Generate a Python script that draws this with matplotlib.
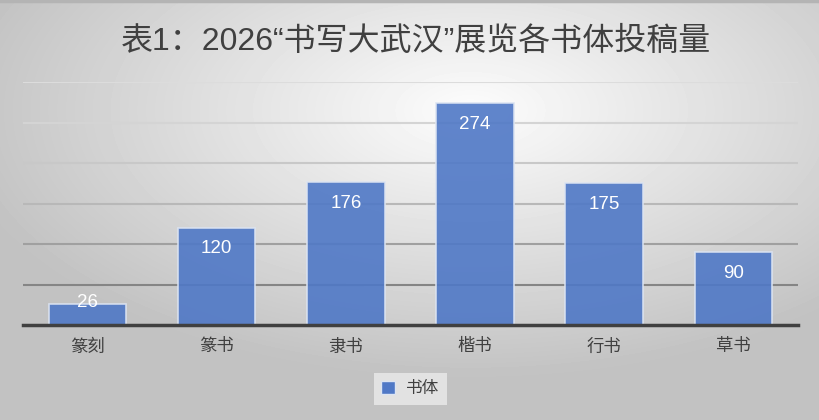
import numpy as np
import matplotlib
matplotlib.use("Agg")
from matplotlib import pyplot as plt
from matplotlib.patches import Rectangle

plt.rcParams['font.family'] = ['Noto Sans CJK SC', 'DejaVu Sans']

categories = ['篆刻', '篆书', '隶书', '楷书', '行书', '草书']
counts = [26, 120, 176, 274, 175, 90]
series_name = '书体'
title = '表1：2026“书写大武汉”展览各书体投稿量'

bar_color = '#4f78c6'
text_color = '#404040'

fig = plt.figure(figsize=(8.2, 4.2), dpi=100)

# radial gradient background
bg = fig.add_axes([0, 0, 1, 1], zorder=-10)
yy, xx = np.mgrid[0:420, 0:820]
r = np.sqrt(((xx - 470) / 820.0) ** 2 + ((yy - 110) / 420.0) ** 2)
shade = np.clip(0.99 - 0.36 * r, 0.76, 1.0)
bg.imshow(shade, cmap='gray', vmin=0, vmax=1, aspect='auto',
          extent=[0, 820, 420, 0])
bg.plot([0, 820], [1, 1], color='#b4b4b4', lw=2.5)
bg.set_xlim(0, 820)
bg.set_ylim(420, 0)
bg.axis('off')

ax = fig.add_axes([23 / 820, 1 - 325 / 420, 775 / 820, 243 / 420])
ax.patch.set_alpha(0)
x = np.arange(len(categories))
ax.set_xlim(-0.5, len(categories) - 0.5)
ax.set_ylim(0, 300)

grid_cols = ['#858585', '#a0a0a0', '#b8b8b8', '#c8c8c8', '#d4d4d4', '#dcdcdc']
for v, c in zip(range(50, 301, 50), grid_cols):
    ax.axhline(v, color=c, lw=1.5, zorder=1)

bars = ax.bar(x, counts, width=0.6, color=bar_color, alpha=0.9,
              edgecolor='#dce4f2', linewidth=1.2, zorder=2)
for b, v in zip(bars, counts):
    # label sits inside the bar end; short bars get it at the top
    off = -21 if v > 60 else 1
    ax.annotate(str(v), (b.get_x() + b.get_width() / 2, v),
                xytext=(0, off), textcoords='offset pixels',
                ha='center', va='center', color='white', fontsize=13.5,
                family=['Liberation Sans', 'DejaVu Sans'], zorder=4)

ax.axhline(0, color='#404040', lw=2.5, zorder=3, clip_on=False)
for s in ax.spines.values():
    s.set_visible(False)
ax.set_yticks([])
ax.set_xticks(x)
ax.set_xticklabels(categories, fontsize=12.5, color=text_color)
ax.tick_params(axis='x', length=0, pad=9)

fig.text(0.507, 1 - 42 / 420, title, ha='center', va='center',
         fontsize=23, color=text_color,
         family=['Liberation Sans', 'Noto Sans CJK SC'])

# legend
leg = ax.legend([Rectangle((0, 0), 1, 1, facecolor=bar_color, edgecolor='#dce4f2')],
                [series_name], loc='center', bbox_to_anchor=(0.5, -0.263),
                frameon=True, fontsize=12, handlelength=0.8, handleheight=0.8,
                handletextpad=0.7, borderpad=0.45, fancybox=False)
leg.get_frame().set_facecolor('#e6e6e6')
leg.get_frame().set_edgecolor('none')
leg.get_frame().set_alpha(0.9)
for t in leg.get_texts():
    t.set_color(text_color)

fig.savefig('out.png', dpi=100)
